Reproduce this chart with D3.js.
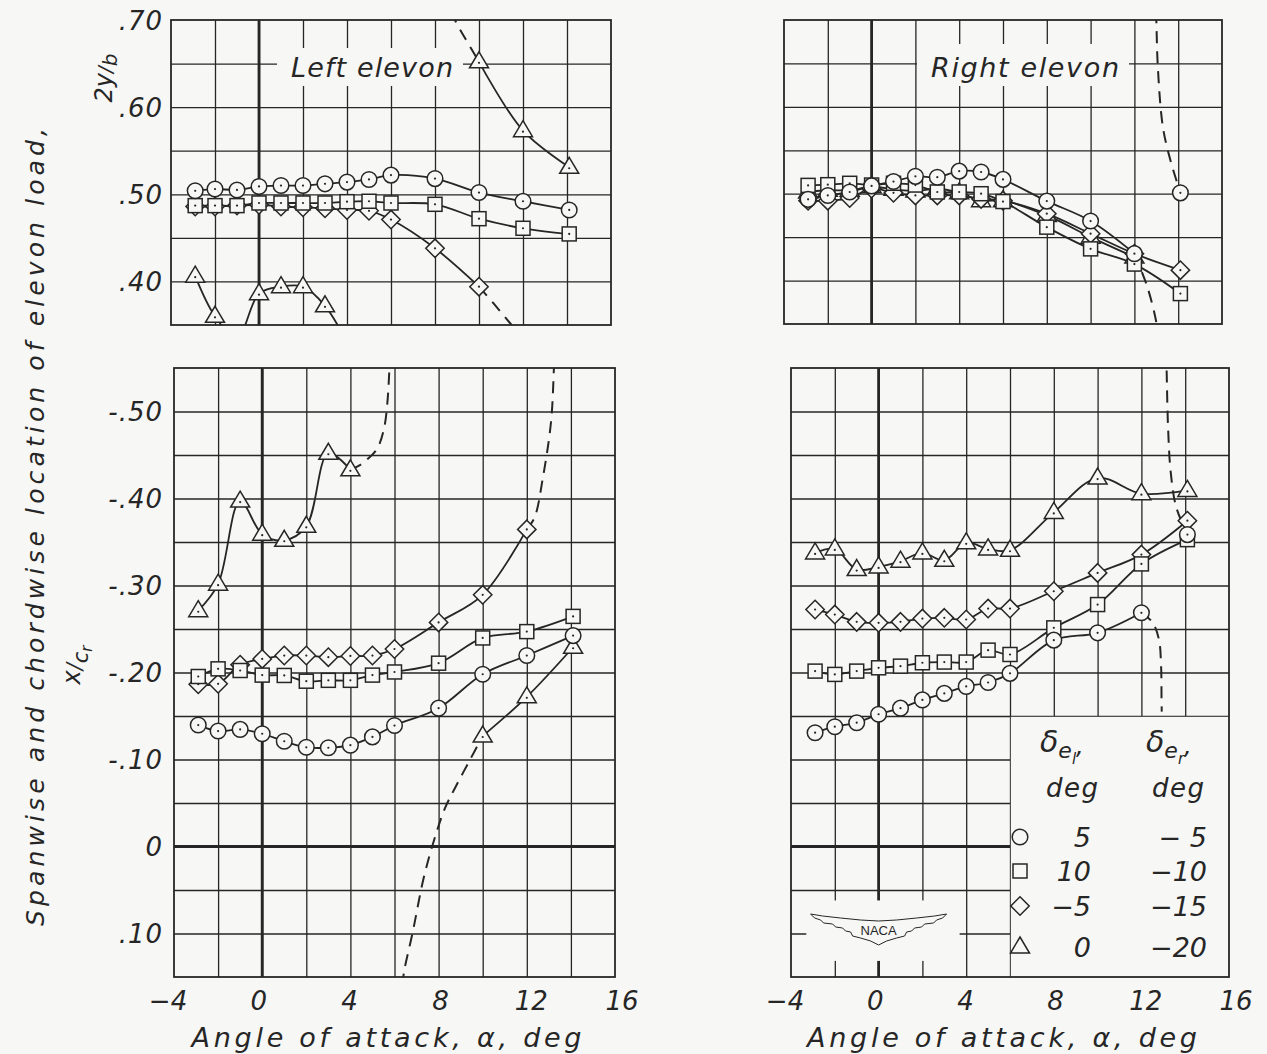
<!DOCTYPE html>
<html><head><meta charset="utf-8">
<script src="https://cdn.jsdelivr.net/npm/d3@7"></script>
<style>
body{margin:0;background:#f7f7f5;}
svg{display:block;}
text{font-family:"DejaVu Sans",sans-serif;font-style:oblique;fill:#262626;}
</style></head><body>
<svg id="c" width="1267" height="1054"></svg>
<script>
// ---------- DATA ----------
const alphaDeg = [-2.9,-2,-1,0,1,2,3,4,5,6,8,10,12,14.1];

// Spanwise location 2y/b, left elevon
const tlCircle   = [0.504,0.506,0.505,0.509,0.510,0.510,0.512,0.514,0.517,0.522,0.518,0.502,0.492,0.482];
const tlSquare   = [0.487,0.487,0.487,0.490,0.490,0.490,0.490,0.4915,0.492,0.490,0.4885,0.472,0.461,0.4545];
const tlDiamond  = [0.486,0.486,0.487,0.488,0.486,0.485,0.484,0.482,0.481,0.471,0.438,0.394,null,null];
const tlTriangle = [0.406,0.360,0.335,0.386,0.394,0.394,0.372,0.330,null,null,null,0.652,0.573,0.531];
const tlDiamondFair  = [[10,0.394],[10.72,0.373],[11.48,0.35],[11.7,0.343]];
const tlTriangleFair = [[8.8,0.71],[8.91,0.70],[9.37,0.679],[10,0.652]];

// Spanwise location 2y/b, right elevon
const trCircle   = [0.4935,0.498,0.502,0.509,0.514,0.520,0.519,0.526,0.525,0.5165,0.4915,0.4685,0.431,0.501];
const trSquare   = [0.5096,0.5104,0.512,0.510,0.512,0.510,0.502,0.502,0.500,0.491,0.4615,0.4365,0.419,0.385];
const trDiamond  = [0.492,0.492,0.495,0.506,0.501,0.498,0.498,0.498,0.494,0.492,0.477,0.454,0.431,0.412];
const trTriangle = [0.502,0.504,0.504,0.508,0.505,0.503,0.506,0.501,0.492,0.492,0.475,0.450,0.427,null];
const trCircleFairA = [[12,0.431],[12.6,0.392],[13.0,0.352],[13.05,0.34]];
const trCircleFairB = [[12.98,0.71],[13.0,0.70],[13.07,0.646],[13.3,0.577],[13.65,0.538],[14.1,0.501]];

// Chordwise location x/cr, left elevon
const blCircle   = [-0.1396,-0.1327,-0.1346,-0.1296,-0.121,-0.114,-0.1135,-0.1165,-0.126,-0.139,-0.159,-0.198,-0.2195,-0.2424];
const blSquare   = [-0.1954,-0.2042,-0.2023,-0.197,-0.1966,-0.190,-0.191,-0.191,-0.197,-0.2006,-0.2107,-0.2397,-0.247,-0.2645];
const blDiamond  = [-0.1865,-0.187,-0.209,-0.2156,-0.2195,-0.2195,-0.2176,-0.219,-0.2195,-0.227,-0.2576,-0.2893,-0.3645,null];
const blTriangle = [-0.271,-0.3015,-0.397,-0.359,-0.352,-0.368,-0.452,-0.433,null,null,null,-0.127,-0.172,-0.229];
const blDiamondFair   = [[12,-0.3645],[12.35,-0.378],[12.73,-0.424],[13.1,-0.4885],[13.23,-0.55],[13.26,-0.57]];
const blTriangleFairA = [[4,-0.433],[4.47,-0.439],[4.77,-0.445],[5.23,-0.458],[5.53,-0.481],[5.68,-0.511],[5.77,-0.55],[5.8,-0.57]];
const blTriangleFairB = [[6.38,0.16],[6.42,0.146],[6.83,0.098],[7.32,0.0365],[7.8,-0.0077],[8.29,-0.044],[8.78,-0.069],[9.43,-0.1],[10,-0.127]];

// Chordwise location x/cr, right elevon
const brCircle   = [-0.1308,-0.1377,-0.1423,-0.152,-0.159,-0.1685,-0.176,-0.184,-0.1885,-0.199,-0.2372,-0.2456,-0.2686,-0.3585];
const brSquare   = [-0.2016,-0.1978,-0.2016,-0.2054,-0.2073,-0.2112,-0.212,-0.212,-0.2257,-0.2207,-0.2513,-0.2781,-0.3248,-0.3527];
const brDiamond  = [-0.2724,-0.2666,-0.2582,-0.2571,-0.2582,-0.262,-0.2628,-0.2609,-0.2735,-0.2735,-0.2934,-0.3145,-0.3355,-0.3745];
const brTriangle = [-0.3374,-0.342,-0.3183,-0.3213,-0.328,-0.3374,-0.329,-0.349,-0.342,-0.3405,-0.384,-0.4235,-0.4055,-0.4093];
const brCircleFairA = [[12,-0.2686],[12.5,-0.258],[12.8,-0.238],[12.9,-0.207],[12.92,-0.165],[12.93,-0.155]];
const brCircleFairB = [[13.13,-0.57],[13.15,-0.55],[13.22,-0.48],[13.34,-0.43],[13.59,-0.39],[14.1,-0.3585]];

const xTickLabels = [-4,0,4,8,12,16];
const topYTicks = [0.40,0.50,0.60,0.70];
const botYTicks = [-0.50,-0.40,-0.30,-0.20,-0.10,0,0.10];
const legendLeft  = ["5","10","\u22125","0"];
const legendRight = ["\u2212 5","\u221210","\u221215","\u221220"];
const legendShapes = ["circle","square","diamond","triangle"];

// ---------- DRAW ----------
const INK = "#262626", BG = "#f7f7f5";
const svg = d3.select("#c");
svg.append("rect").attr("width",1267).attr("height",1054).attr("fill",BG);

function marker(g, shape, cx, cy, dot) {
  const s = g.append("g").attr("transform",`translate(${cx},${cy})`);
  let el;
  if (shape==="circle") el = s.append("circle").attr("r",7.8);
  else if (shape==="square") el = s.append("rect").attr("x",-7).attr("y",-7).attr("width",14).attr("height",14);
  else if (shape==="diamond") el = s.append("path").attr("d","M0,-9.2L9.2,0L0,9.2L-9.2,0Z");
  else el = s.append("path").attr("d","M0,-10L9.5,6L-9.5,6Z");
  el.attr("fill",BG).attr("stroke",INK).attr("stroke-width",1.5);
  if (dot) s.append("circle").attr("r",1.1).attr("cy", shape==="triangle"?1:0).attr("fill",INK);
}

let clipId = 0;
function panel(cfg) {
  const b = cfg.box;
  const x = d3.scaleLinear().domain([-4,16]).range([b.x0,b.x1]);
  const y = cfg.top ? d3.scaleLinear().domain([0.35,0.70]).range([b.y1,b.y0])
                    : d3.scaleLinear().domain([-0.55,0.15]).range([b.y0,b.y1]);
  const g = svg.append("g");
  const w = b.x1-b.x0, h = b.y1-b.y0;
  const gx = g.append("g").attr("transform",`translate(0,${b.y1})`)
    .call(d3.axisBottom(x).tickValues(d3.range(-2,15,2)).tickSize(-h).tickFormat(""));
  gx.select(".domain").remove();
  gx.selectAll("line").attr("stroke",INK).attr("stroke-width",1.3);
  const yg = cfg.top ? d3.range(0.40,0.67,0.05) : d3.range(-0.50,0.11,0.05);
  const gy = g.append("g").attr("transform",`translate(${b.x0},0)`)
    .call(d3.axisLeft(y).tickValues(yg).tickSize(-w).tickFormat(""));
  gy.select(".domain").remove();
  gy.selectAll("line").attr("stroke",INK).attr("stroke-width",1.3);
  g.append("line").attr("x1",x(0)).attr("x2",x(0)).attr("y1",b.y0).attr("y2",b.y1).attr("stroke",INK).attr("stroke-width",2.8);
  if (!cfg.top) g.append("line").attr("x1",b.x0).attr("x2",b.x1).attr("y1",y(0)).attr("y2",y(0)).attr("stroke",INK).attr("stroke-width",2.8);
  (cfg.masks||[]).forEach(m => g.append("rect").attr("x",m[0]).attr("y",m[1]).attr("width",m[2]-m[0]).attr("height",m[3]-m[1]).attr("fill",BG));
  if (cfg.legendMask) {
    g.append("rect").attr("x",x(6)+0.8).attr("y",y(-0.15)+0.8).attr("width",b.x1-x(6)-0.8).attr("height",b.y1-y(-0.15)-0.8).attr("fill",BG);
    g.append("rect").attr("x",x(-3.3)).attr("y",y(0.062)).attr("width",x(3.7)-x(-3.3)).attr("height",y(0.1315)-y(0.062)).attr("fill",BG);
  }
  g.append("rect").attr("x",b.x0).attr("y",b.y0).attr("width",w).attr("height",h).attr("fill","none").attr("stroke",INK).attr("stroke-width",1.8);
  const cid = "clip"+(clipId++);
  svg.append("clipPath").attr("id",cid).append("rect").attr("x",b.x0).attr("y",b.y0).attr("width",w).attr("height",h);
  const lg = g.append("g").attr("clip-path",`url(#${cid})`);
  const line = d3.line().x(d=>x(d[0])).y(d=>y(d[1])).curve(d3.curveCatmullRom.alpha(0.5));
  cfg.series.forEach(s => {
    let seg = [];
    const segs = [];
    s.values.forEach((v,i) => {
      if (v==null) { if (seg.length) segs.push(seg); seg=[]; return; }
      seg.push([alphaDeg[i], v]);
      if ((s.breakAfter||[]).includes(i)) { segs.push(seg); seg=[]; }
    });
    if (seg.length) segs.push(seg);
    segs.forEach(sg => { if (sg.length>1) lg.append("path").attr("d",line(sg)).attr("fill","none").attr("stroke",INK).attr("stroke-width",1.8); });
  });
  (cfg.fairings||[]).forEach(f => lg.append("path").attr("d",line(f)).attr("fill","none").attr("stroke",INK).attr("stroke-width",2).attr("stroke-dasharray","12,8"));
  const [lo,hi] = y.domain()[0]<y.domain()[1] ? y.domain() : [y.domain()[1],y.domain()[0]];
  cfg.series.slice().reverse().forEach(s => {
    s.values.forEach((v,i) => {
      if (v==null || v<lo || v>hi) return;
      marker(g, s.shape, x(alphaDeg[i]), y(v), true);
    });
  });
  if (cfg.yLabels) {
    const fmt = v => { if (Math.abs(v)<1e-9) return "0"; const s = d3.format(".2f")(Math.abs(v)).replace(/^0/,""); return (v<0?"-":"")+s; };
    const ay = g.append("g").attr("transform",`translate(163,0)`)
      .call(d3.axisLeft(y).tickValues(cfg.top?topYTicks:botYTicks).tickSize(0).tickPadding(0).tickFormat(fmt));
    ay.select(".domain").remove();
    ay.attr("font-family",null).attr("font-size",null);
    ay.selectAll("text").attr("font-size",26).attr("letter-spacing",1).attr("fill",INK).attr("x",0).attr("dy","0.36em");
  }
  if (!cfg.top) {
    const ax = g.append("g").attr("transform",`translate(0,${b.y1})`)
      .call(d3.axisBottom(x).tickValues(xTickLabels).tickSize(0).tickPadding(0).tickFormat(d => d<0 ? "\u2212"+Math.abs(d) : String(d)));
    ax.select(".domain").remove();
    ax.attr("font-family",null).attr("font-size",null);
    ax.selectAll("text").attr("font-size",26).attr("fill",INK).attr("y",33).attr("dy",0).attr("dx",d=>(d-6)*0.65);
    g.append("text").attr("x",(b.x0+b.x1)/2 - 8).attr("y",1047).attr("text-anchor","middle")
      .attr("font-size",27).attr("textLength",390).attr("lengthAdjust","spacing").text("Angle of attack, \u03b1, deg");
  }
  return {x,y,g};
}

const TL = panel({box:{x0:171,x1:611,y0:20,y1:325}, top:true, yLabels:true,
  masks:[[277,48,463,86]],
  series:[{shape:"circle",values:tlCircle},{shape:"square",values:tlSquare},{shape:"diamond",values:tlDiamond},{shape:"triangle",values:tlTriangle}],
  fairings:[tlDiamondFair, tlTriangleFair]});
TL.g.append("text").attr("x",372).attr("y",77).attr("text-anchor","middle").attr("font-size",27).attr("textLength",162).attr("lengthAdjust","spacing").text("Left elevon");

const TR = panel({box:{x0:784,x1:1222,y0:20,y1:324}, top:true,
  masks:[[917,44,1129,86]],
  series:[{shape:"circle",values:trCircle,breakAfter:[12]},{shape:"square",values:trSquare},{shape:"diamond",values:trDiamond},{shape:"triangle",values:trTriangle}],
  fairings:[trCircleFairA, trCircleFairB]});
TR.g.append("text").attr("x",1025).attr("y",77).attr("text-anchor","middle").attr("font-size",27).attr("textLength",188).attr("lengthAdjust","spacing").text("Right elevon");

const BL = panel({box:{x0:174,x1:615,y0:368,y1:977}, top:false, yLabels:true,
  series:[{shape:"circle",values:blCircle},{shape:"square",values:blSquare},{shape:"diamond",values:blDiamond},{shape:"triangle",values:blTriangle}],
  fairings:[blDiamondFair, blTriangleFairA, blTriangleFairB]});

const BR = panel({box:{x0:791,x1:1229,y0:368,y1:977}, top:false, legendMask:true,
  series:[{shape:"circle",values:brCircle,breakAfter:[12]},{shape:"square",values:brSquare},{shape:"diamond",values:brDiamond},{shape:"triangle",values:brTriangle}],
  fairings:[brCircleFairA, brCircleFairB]});

// Legend
const lg = svg.append("g");
function header(x0, sub) {
  const t = lg.append("text").attr("x",x0).attr("y",752).attr("font-size",30);
  t.append("tspan").text("\u03b4");
  t.append("tspan").attr("font-size",22).attr("dy",6).text("e");
  t.append("tspan").attr("font-size",15).attr("dy",6).text(sub);
  t.append("tspan").attr("font-size",24).attr("dy",-10).text(",");
  lg.append("text").attr("x",x0+6).attr("y",797).attr("font-size",26).attr("letter-spacing",1.5).text("deg");
}
header(1040,"l"); header(1146,"r");
const rowsY = [838,872,907,948];
legendShapes.forEach((s,i) => {
  marker(lg, s, 1020, rowsY[i]-1, false);
  lg.append("text").attr("x",1091).attr("y",rowsY[i]+9).attr("text-anchor","end").attr("font-size",27).text(legendLeft[i]);
  lg.append("text").attr("x",1207).attr("y",rowsY[i]+9).attr("text-anchor","end").attr("font-size",27).text(legendRight[i]);
});

// NACA logo
const logo = svg.append("g").attr("transform",`translate(${BR.x(0)},929)`);
const half = [[0,-8],[18,-9],[38,-11],[56,-13],[68,-15],[64,-11],[58,-9],[55,-6],[46,-5],[43,-2],[36,-1],[33,2],[28,3],[26,7],[18,9],[8,12],[0,16]];
logo.append("path").attr("d",d3.line().curve(d3.curveLinearClosed)(half.concat(half.slice(1,-1).reverse().map(p=>[-p[0],p[1]]))))
  .attr("fill","none").attr("stroke",INK).attr("stroke-width",1);
logo.append("text").attr("x",0).attr("y",6).attr("text-anchor","middle").attr("font-size",13)
  .style("font-style","normal").style("font-family","'Liberation Sans', sans-serif").text("NACA");

// Axis titles (left)
svg.append("text").attr("transform","translate(44,527) rotate(-90)").attr("text-anchor","middle").attr("font-size",25)
  .attr("textLength",798).attr("lengthAdjust","spacing").text("Spanwise and chordwise location of elevon  load,");
const t2 = svg.append("text").attr("transform","translate(112,78) rotate(-90)").attr("text-anchor","middle").attr("font-size",24);
t2.append("tspan").text("2y");
t2.append("tspan").attr("font-size",20).text("/");
t2.append("tspan").attr("font-size",20).attr("dy",5).text("b");
const t3 = svg.append("text").attr("transform","translate(84,665) rotate(-90)").attr("text-anchor","middle").attr("font-size",24);
t3.append("tspan").attr("dy",-4).text("x");
t3.append("tspan").attr("font-size",21).attr("dy",2).text("/");
t3.append("tspan").attr("font-size",21).attr("dy",6).text("c");
t3.append("tspan").attr("font-size",15).attr("dy",4).text("r");
</script>
</body></html>
